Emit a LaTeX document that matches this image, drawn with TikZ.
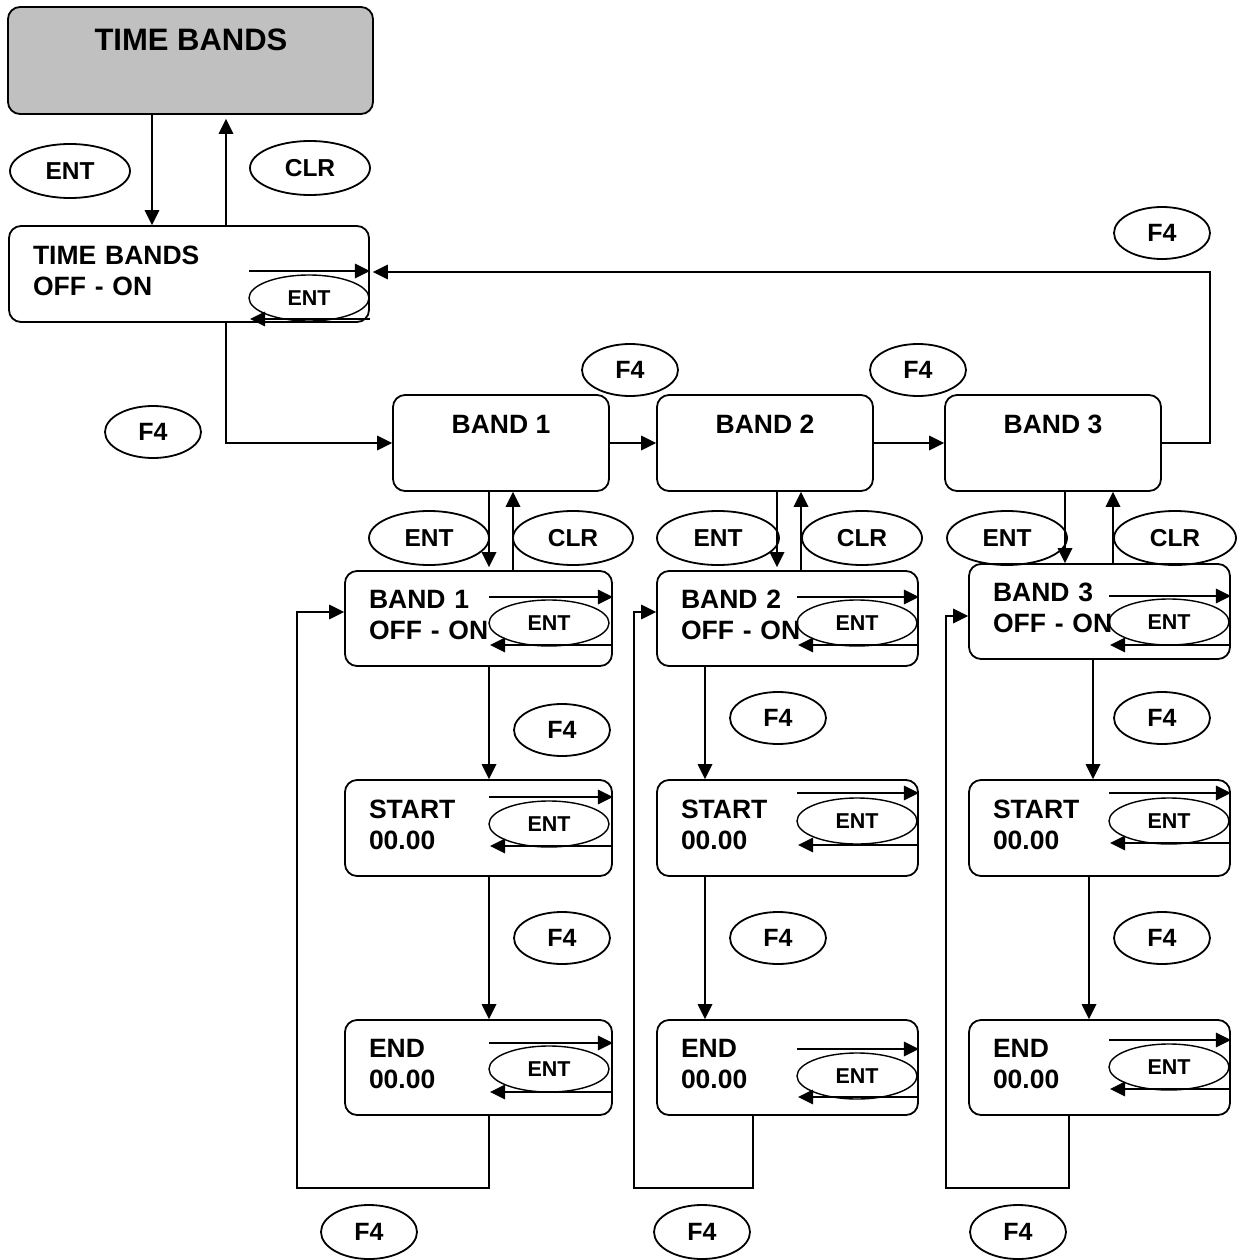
\documentclass[tikz,border=0pt]{standalone}
\usepackage{fontspec}
\setmainfont{Liberation Sans}
\usetikzlibrary{arrows.meta,shapes.geometric}
\definecolor{panel}{RGB}{192,192,192}
\newcommand{\innerloop}[6]{%
  \node[skey] (#1) at (#3+60,#5) {ENT};
  \draw[arr, thinline] (#3,#4) -- (#2.east |- #3,#4);
  \draw[arr, thinline] (#2.east |- #3,#6) -- (#3+1,#6);
}
\begin{document}
\begin{tikzpicture}[x=1pt,y=-1pt, line width=1.8pt,
  arr/.style={-{Triangle[length=15pt,width=14.5pt]}},
  thinline/.style={line width=1.4pt},
  box/.style={draw, rounded corners=12pt, inner sep=0pt, font=\fontsize{26.5}{31}\selectfont\bfseries},
  tbox/.style={box, align=left, inner xsep=24pt, inner ysep=0pt, text depth=38pt},
  lbl/.style={inner sep=0pt, font=\fontsize{26.5}{31}\selectfont\bfseries},
  key/.style={draw, ellipse, inner sep=0pt, minimum width=120pt, minimum height=54pt, font=\fontsize{24.5}{24}\selectfont\bfseries},
  skey/.style={draw, ellipse, inner sep=0pt, minimum width=120pt, minimum height=46pt, line width=1.4pt, font=\fontsize{21.5}{21}\selectfont\bfseries},
  fkey/.style={key, minimum width=96pt, minimum height=52pt, font=\fontsize{25}{25}\selectfont\bfseries},
]
\useasboundingbox (0,0) rectangle (1239,1260);

% top panel
\node[box, fill=panel, minimum width=365pt, minimum height=107pt] (tb) at (190.5,60.5) {};
\node[inner sep=0pt, font=\fontsize{31}{31}\selectfont\bfseries] (tbt) at (191,40) {TIME BANDS};

\node[tbox, minimum height=96pt, text width=312pt] (tb2) at (189,274) {TIME BANDS\\OFF - ON};

\node[key] (k1) at (70,171) {ENT};
\node[key] (k2) at (310,168) {CLR};
\draw[arr] (tb.south -| 152,0) -- (tb2.north -| 152,0);
\draw[arr] (tb2.north -| 226,0) -- ([yshift=-4pt]tb.south -| 226,0);
\innerloop{t0}{tb2}{249}{271}{298}{319}

% band row
\node[box, minimum width=216pt, minimum height=96pt] (b1) at (501,443) {};
\node[box, minimum width=216pt, minimum height=96pt] (b2) at (765,443) {};
\node[box, minimum width=216pt, minimum height=96pt] (b3) at (1053,443) {};
\node[lbl] (b1t) at (501,424) {BAND 1};
\node[lbl] (b2t) at (765,424) {BAND 2};
\node[lbl] (b3t) at (1053,424) {BAND 3};

\draw[arr] (tb2.south -| 226,0) |- (b1.west);
\node[fkey] (f0) at (153,432) {F4};
\draw[arr] (b1) -- (b2);
\draw[arr] (b2) -- (b3);
\node[fkey] (f1) at (630,370) {F4};
\node[fkey] (f2) at (918,370) {F4};
\draw[arr] (b3.east) -- (1210,443) -- (1210,272) -- ([xshift=3pt]tb2.east |- 0,272);
\node[fkey] (f3) at (1162,233) {F4};

% sub boxes
\node[tbox, minimum height=95pt, text width=219pt] (s1) at (478.5,618.5) {BAND 1\\OFF - ON};
\node[tbox, minimum height=95pt, text width=213pt] (s2) at (787.5,618.5) {BAND 2\\OFF - ON};
\node[tbox, minimum height=95pt, text width=213pt] (s3) at (1099.5,611.5) {BAND 3\\OFF - ON};

\node[tbox, minimum height=96pt, text width=219pt] (st1) at (478.5,828) {START\\00.00};
\node[tbox, minimum height=96pt, text width=213pt] (st2) at (787.5,828) {START\\00.00};
\node[tbox, minimum height=96pt, text width=213pt] (st3) at (1099.5,828) {START\\00.00};

\node[tbox, minimum height=95pt, text width=219pt] (e1) at (478.5,1067.5) {END\\00.00};
\node[tbox, minimum height=95pt, text width=213pt] (e2) at (787.5,1067.5) {END\\00.00};
\node[tbox, minimum height=95pt, text width=213pt] (e3) at (1099.5,1067.5) {END\\00.00};

\innerloop{n1}{s1}{489}{597}{623}{645}
\innerloop{n2}{s2}{797}{597}{623}{645}
\innerloop{n3}{s3}{1109}{596}{622}{645}
\innerloop{n4}{st1}{489}{797}{824}{846}
\innerloop{n5}{st2}{797}{793}{821}{845}
\innerloop{n6}{st3}{1109}{793}{821}{843}
\innerloop{n7}{e1}{489}{1043}{1069}{1092}
\innerloop{n8}{e2}{797}{1049}{1076}{1097}
\innerloop{n9}{e3}{1109}{1040}{1067}{1089}

% ENT / CLR between band row and sub boxes
\draw[arr] (b1.south -| 489,0) -- ([yshift=3pt]s1.north -| 489,0);
\draw[arr] (s1.north -| 513,0) -- (b1.south -| 513,0);
\node[key] (k3) at (429,538) {ENT};
\node[key] (k4) at (573,538) {CLR};
\draw[arr] (b2.south -| 777,0) -- ([yshift=3pt]s2.north -| 777,0);
\draw[arr] (s2.north -| 801,0) -- (b2.south -| 801,0);
\node[key, minimum width=122pt] (k5) at (718,538) {ENT};
\node[key] (k6) at (862,538) {CLR};
\draw[arr] (b3.south -| 1065,0) -- (s3.north -| 1065,0);
\draw[arr] (s3.north -| 1113,0) -- (b3.south -| 1113,0);
\node[key] (k7) at (1007,538) {ENT};
\node[key, minimum width=122pt] (k8) at (1175,538) {CLR};

% column 1
\draw[arr] (s1.south -| 489,0) -- (st1.north -| 489,0);
\node[fkey] (f4) at (562,730) {F4};
\draw[arr] (st1.south -| 489,0) -- (e1.north -| 489,0);
\node[fkey] (f5) at (562,938) {F4};
\draw[arr] (e1.south -| 489,0) -- (489,1188) -- (297,1188) |- (s1.west |- 0,612);
\node[fkey, minimum height=54pt] (f6) at (369,1232) {F4};

% column 2
\draw[arr] (s2.south -| 705,0) -- (st2.north -| 705,0);
\node[fkey] (f7) at (778,718) {F4};
\draw[arr] (st2.south -| 705,0) -- (e2.north -| 705,0);
\node[fkey] (f8) at (778,938) {F4};
\draw[arr] (e2.south -| 753,0) -- (753,1188) -- (634,1188) |- (s2.west |- 0,612);
\node[fkey, minimum height=54pt] (f9) at (702,1232) {F4};

% column 3
\draw[arr] (s3.south -| 1093,0) -- (st3.north -| 1093,0);
\node[fkey] (f10) at (1162,718) {F4};
\draw[arr] (st3.south -| 1089,0) -- (e3.north -| 1089,0);
\node[fkey] (f11) at (1162,938) {F4};
\draw[arr] (e3.south -| 1069,0) -- (1069,1188) -- (946,1188) |- (s3.west |- 0,616);
\node[fkey, minimum height=54pt] (f12) at (1018,1232) {F4};
\end{tikzpicture}
\end{document}
